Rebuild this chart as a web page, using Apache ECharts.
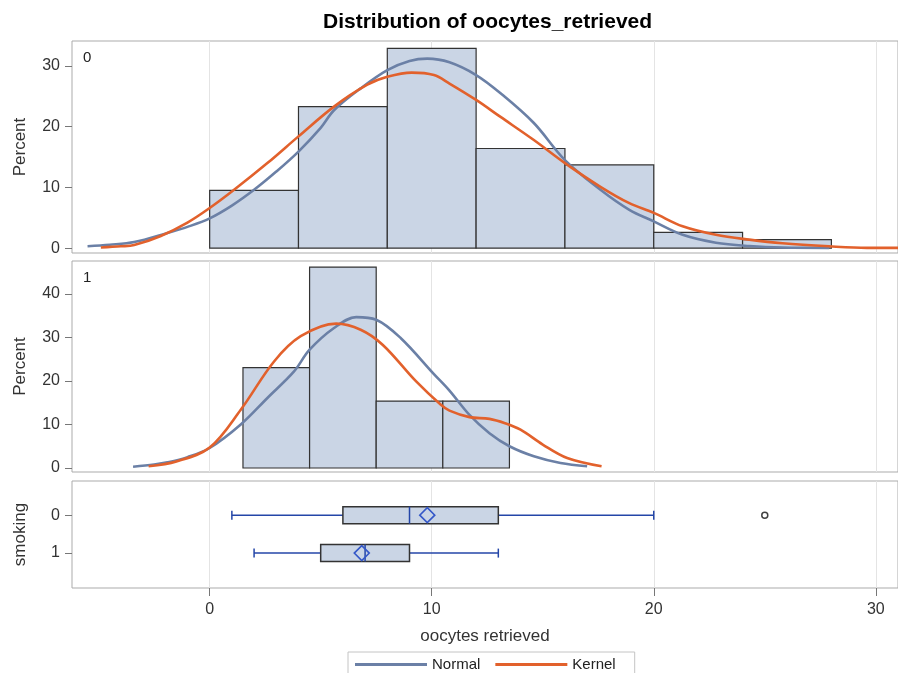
<!DOCTYPE html>
<html>
<head>
<meta charset="utf-8">
<script src="https://cdn.jsdelivr.net/npm/echarts@6/dist/echarts.min.js"></script>
<style>
html,body{margin:0;padding:0;background:#fff;}
#chart{width:898px;height:673px;}
</style>
</head>
<body>
<div id="chart"></div>
<script>
// ---------- data ----------
const xTicks = [0, 10, 20, 30];
const yTicks0 = [0, 10, 20, 30];
const yTicks1 = [0, 10, 20, 30, 40];
const groupLabels = ['0', '1'];

// histogram, smoking = 0 (bin edges, percent)
const binLo0 = [0, 4, 8, 12, 16, 20, 24];
const binHi0 = [4, 8, 12, 16, 20, 24, 28];
const pct0   = [9.5, 23.3, 32.9, 16.4, 13.7, 2.6, 1.4];

// histogram, smoking = 1
const binLo1 = [1.5, 4.5, 7.5, 10.5];
const binHi1 = [4.5, 7.5, 10.5, 13.5];
const pct1   = [23.1, 46.2, 15.4, 15.4];

// fitted curves
const normal0 = [[-5.5,0.3],[-4.5,0.55],[-3.4,1.0],[-1.9,2.5],[-1,3.5],[0,4.9],[1,7.0],[2,9.6],[3,12.6],[4,15.9],[5,19.8],[5.6,22.7],[6.8,26.3],[8,29.3],[9,30.8],[9.8,31.2],[10.8,30.6],[12,28.5],[13.1,25.5],[14.6,20.6],[16,14.5],[17.6,9.6],[18.9,6.3],[20,4.4],[21.3,2.2],[22.8,0.9],[24.3,0.35],[25.8,0.1],[27.9,0.05]];
const kernel0 = [[-4.9,0.1],[-4,0.3],[-3.4,0.5],[-2.2,2.0],[-1,4.2],[0,6.6],[1.1,9.6],[2.6,14.0],[4,18.4],[5.6,23.3],[7.1,26.9],[8,28.2],[9.1,28.9],[10.1,28.5],[10.8,27.1],[12,24.4],[13.1,21.6],[14.6,17.8],[16,14.0],[17.6,10.1],[18.9,7.4],[20,5.8],[21.3,3.6],[22.8,2.2],[24.3,1.4],[25.8,0.8],[27.9,0.3],[29.6,0.05],[31,0.05]];
const normal1 = [[-3.45,0.3],[-2.5,0.8],[-1.9,1.3],[-1,2.5],[0,4.6],[1.4,10.0],[2.6,16.1],[3.8,22.2],[4.5,27.2],[5.6,32.2],[6.6,34.7],[7.5,34.1],[8.6,29.9],[10.1,21.6],[10.8,17.8],[11.7,12.2],[12.6,8.0],[13.5,5.0],[14.6,2.7],[15.8,1.15],[17,0.4]];
const kernel1 = [[-2.75,0.4],[-1.5,1.5],[0,4.7],[1.4,13.4],[2.9,24.5],[4.1,30.3],[5.7,33.2],[6.8,31.8],[7.8,28.3],[9.3,19.9],[10.4,14.6],[10.8,13.2],[11.7,11.7],[12.6,11.3],[13.3,10.3],[14.0,8.8],[15,5.4],[16.1,2.3],[17.65,0.4]];

// box plot statistics per group: min whisker, Q1, median, Q3, max whisker
const boxLow  = [1, 2];
const boxQ1   = [6, 5];
const boxMed  = [9, 7];
const boxQ3   = [13, 9];
const boxHigh = [20, 13];
const boxMean = [9.8, 6.85];
const outliers = [[25, 0]];

// ---------- chart ----------
const FONT = "'Liberation Sans', Arial, sans-serif";
const FILL = '#cad5e5';
const NORMAL_C = '#6b80a6';
const KERNEL_C = '#e2612c';
const WHISK_C = '#2446a8';

const chart = echarts.init(document.getElementById('chart'), null, {renderer: 'canvas'});

function histData(lo, hi, p) { return lo.map((v, i) => [v, hi[i], p[i]]); }
const boxData = boxLow.map((v, i) => [i, v, boxQ1[i], boxMed[i], boxQ3[i], boxHigh[i], boxMean[i]]);

function histRender(params, api) {
  const a = api.coord([api.value(0), api.value(2)]);
  const b = api.coord([api.value(1), 0]);
  return {
    type: 'rect',
    shape: {x: a[0], y: a[1], width: b[0] - a[0], height: b[1] - a[1]},
    style: {fill: FILL, stroke: '#333', lineWidth: 1.2}
  };
}

function boxRender(params, api) {
  const g = api.value(0);
  const pLow = api.coord([api.value(1), g]);
  const pQ1 = api.coord([api.value(2), g]);
  const pMed = api.coord([api.value(3), g]);
  const pQ3 = api.coord([api.value(4), g]);
  const pHigh = api.coord([api.value(5), g]);
  const pMean = api.coord([api.value(6), g]);
  const y = pLow[1];
  const bh = 8.5, ch = 4.5, dw = 7.5, dh = 7.5;
  const ws = {stroke: WHISK_C, lineWidth: 1.5};
  return {
    type: 'group',
    children: [
      {type: 'line', shape: {x1: pLow[0], y1: y, x2: pHigh[0], y2: y}, style: ws},
      {type: 'line', shape: {x1: pLow[0], y1: y - ch, x2: pLow[0], y2: y + ch}, style: ws},
      {type: 'line', shape: {x1: pHigh[0], y1: y - ch, x2: pHigh[0], y2: y + ch}, style: ws},
      {type: 'rect', shape: {x: pQ1[0], y: y - bh, width: pQ3[0] - pQ1[0], height: 2 * bh}, style: {fill: FILL, stroke: '#333', lineWidth: 1.5}},
      {type: 'line', shape: {x1: pMed[0], y1: y - bh, x2: pMed[0], y2: y + bh}, style: ws},
      {type: 'polygon', shape: {points: [[pMean[0], y - dh], [pMean[0] + dw, y], [pMean[0], y + dh], [pMean[0] - dw, y]]}, style: {fill: 'none', stroke: '#3558c8', lineWidth: 1.6}}
    ]
  };
}

const xBase = {
  type: 'value', min: -6.2, max: 31,
  axisLine: {show: false, onZero: false},
  splitLine: {show: true, lineStyle: {color: '#e4e4e4', width: 1}}
};

const yTickStyle = {show: true, length: 7, lineStyle: {color: '#777'}};
const labelStyle = {color: '#333', fontSize: 16, fontFamily: FONT};
const nameStyle = {color: '#333', fontSize: 17, fontFamily: FONT};

const option = {
  animation: false,
  backgroundColor: '#fff',
  title: {
    text: 'Distribution of oocytes_retrieved',
    left: 318, top: 7,
    textStyle: {fontSize: 21, fontWeight: 'bold', color: '#000', fontFamily: FONT}
  },
  legend: {
    left: 348, top: 652,
    data: ['Normal', 'Kernel'],
    icon: 'rect', itemWidth: 72, itemHeight: 3, itemGap: 15,
    padding: [5, 19, 12, 7],
    borderColor: '#c4c4c4', borderWidth: 1,
    selectedMode: false,
    textStyle: {fontSize: 15, color: '#222', fontFamily: FONT}
  },
  graphic: [
    {type: 'text', left: 83, top: 50, style: {text: groupLabels[0], fontSize: 15, fill: '#222', fontFamily: FONT}},
    {type: 'text', left: 83, top: 270, style: {text: groupLabels[1], fontSize: 15, fill: '#222', fontFamily: FONT}}
  ],
  grid: [
    {left: 72, right: -1, top: 41, height: 212, show: true, borderColor: '#ababab', borderWidth: 1},
    {left: 72, right: -1, top: 261, height: 211, show: true, borderColor: '#ababab', borderWidth: 1},
    {left: 72, right: -1, top: 481, height: 107, show: true, borderColor: '#ababab', borderWidth: 1}
  ],
  xAxis: [
    Object.assign({}, xBase, {gridIndex: 0, axisTick: {show: false, customValues: xTicks}, axisLabel: {show: false}}),
    Object.assign({}, xBase, {gridIndex: 1, axisTick: {show: false, customValues: xTicks}, axisLabel: {show: false}}),
    Object.assign({}, xBase, {
      gridIndex: 2,
      axisTick: {show: true, length: 8, customValues: xTicks, lineStyle: {color: '#777'}},
      axisLabel: Object.assign({customValues: xTicks, margin: 14}, labelStyle),
      name: 'oocytes retrieved', nameLocation: 'middle', nameGap: 40, nameTextStyle: nameStyle
    })
  ],
  yAxis: [
    {gridIndex: 0, type: 'value', min: -0.8, max: 34.1,
     axisLine: {show: false, onZero: false}, splitLine: {show: false},
     axisTick: Object.assign({customValues: yTicks0}, yTickStyle),
     axisLabel: Object.assign({customValues: yTicks0, margin: 12}, labelStyle),
     name: 'Percent', nameLocation: 'middle', nameGap: 43, nameTextStyle: nameStyle},
    {gridIndex: 1, type: 'value', min: -0.92, max: 47.6,
     axisLine: {show: false, onZero: false}, splitLine: {show: false},
     axisTick: Object.assign({customValues: yTicks1}, yTickStyle),
     axisLabel: Object.assign({customValues: yTicks1, margin: 12}, labelStyle),
     name: 'Percent', nameLocation: 'middle', nameGap: 43, nameTextStyle: nameStyle},
    {gridIndex: 2, type: 'value', min: -0.9, max: 1.92, inverse: true,
     axisLine: {show: false, onZero: false}, splitLine: {show: false},
     axisTick: Object.assign({customValues: [0, 1]}, yTickStyle),
     axisLabel: Object.assign({customValues: [0, 1], margin: 12, formatter: v => groupLabels[v]}, labelStyle),
     name: 'smoking', nameLocation: 'middle', nameGap: 43, nameTextStyle: nameStyle}
  ],
  series: [
    {type: 'custom', name: 'hist0', xAxisIndex: 0, yAxisIndex: 0, renderItem: histRender,
     data: histData(binLo0, binHi0, pct0), encode: {x: [0, 1], y: 2}, z: 2},
    {type: 'custom', name: 'hist1', xAxisIndex: 1, yAxisIndex: 1, renderItem: histRender,
     data: histData(binLo1, binHi1, pct1), encode: {x: [0, 1], y: 2}, z: 2},
    {type: 'line', name: 'Normal', xAxisIndex: 0, yAxisIndex: 0, data: normal0, smooth: 0.35,
     showSymbol: false, symbol: 'none', lineStyle: {color: NORMAL_C, width: 2.6}, itemStyle: {color: NORMAL_C}, z: 3},
    {type: 'line', name: 'Kernel', xAxisIndex: 0, yAxisIndex: 0, data: kernel0, smooth: 0.35,
     showSymbol: false, symbol: 'none', lineStyle: {color: KERNEL_C, width: 2.6}, itemStyle: {color: KERNEL_C}, z: 4},
    {type: 'line', name: 'Normal', xAxisIndex: 1, yAxisIndex: 1, data: normal1, smooth: 0.35,
     showSymbol: false, symbol: 'none', lineStyle: {color: NORMAL_C, width: 2.6}, itemStyle: {color: NORMAL_C}, z: 3},
    {type: 'line', name: 'Kernel', xAxisIndex: 1, yAxisIndex: 1, data: kernel1, smooth: 0.35,
     showSymbol: false, symbol: 'none', lineStyle: {color: KERNEL_C, width: 2.6}, itemStyle: {color: KERNEL_C}, z: 4},
    {type: 'custom', name: 'box', xAxisIndex: 2, yAxisIndex: 2, renderItem: boxRender,
     data: boxData, encode: {x: [1, 2, 3, 4, 5, 6], y: 0}, z: 3},
    {type: 'scatter', name: 'outlier', xAxisIndex: 2, yAxisIndex: 2, data: outliers,
     symbol: 'circle', symbolSize: 6, itemStyle: {color: '#fff', borderColor: '#111', borderWidth: 1.5}, z: 4}
  ]
};
chart.setOption(option);
</script>
</body>
</html>
